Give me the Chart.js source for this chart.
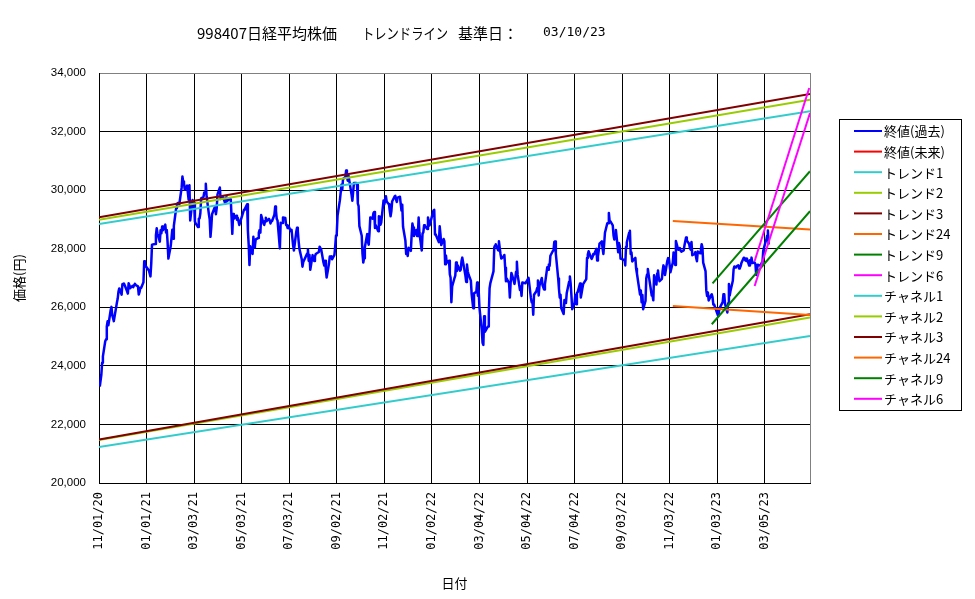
<!DOCTYPE html>
<html><head><meta charset="utf-8">
<script src="https://cdn.jsdelivr.net/npm/chart.js@4/dist/chart.umd.min.js"></script>
<style>html,body{margin:0;padding:0;background:#fff}#wrap{width:975px;height:599px;position:relative}</style>
</head><body><div id="wrap"><canvas id="c" width="975" height="599"></canvas></div>
<script>
// ---------------- data ----------------
const closeDates = [
'2020-11-02','2020-11-04','2020-11-05','2020-11-06','2020-11-09','2020-11-10','2020-11-11','2020-11-12','2020-11-13','2020-11-16','2020-11-17','2020-11-18','2020-11-19','2020-11-20','2020-11-24','2020-11-25','2020-11-26','2020-11-27','2020-11-30',
'2020-12-01','2020-12-02','2020-12-03','2020-12-04','2020-12-07','2020-12-08','2020-12-09','2020-12-10','2020-12-11','2020-12-14','2020-12-15','2020-12-16','2020-12-17','2020-12-18','2020-12-21','2020-12-22','2020-12-23','2020-12-24','2020-12-25','2020-12-28','2020-12-29','2020-12-30',
'2021-01-04','2021-01-05','2021-01-06','2021-01-07','2021-01-08','2021-01-12','2021-01-13','2021-01-14','2021-01-15','2021-01-18','2021-01-19','2021-01-20','2021-01-21','2021-01-22','2021-01-25','2021-01-26','2021-01-27','2021-01-28','2021-01-29',
'2021-02-01','2021-02-02','2021-02-03','2021-02-04','2021-02-05','2021-02-08','2021-02-09','2021-02-10','2021-02-12','2021-02-15','2021-02-16','2021-02-17','2021-02-18','2021-02-19','2021-02-22','2021-02-24','2021-02-25','2021-02-26',
'2021-03-01','2021-03-02','2021-03-03','2021-03-04','2021-03-05','2021-03-08','2021-03-09','2021-03-10','2021-03-11','2021-03-12','2021-03-15','2021-03-16','2021-03-17','2021-03-18','2021-03-19','2021-03-22','2021-03-23','2021-03-24','2021-03-25','2021-03-26','2021-03-29','2021-03-30','2021-03-31',
'2021-04-01','2021-04-02','2021-04-05','2021-04-06','2021-04-07','2021-04-08','2021-04-09','2021-04-12','2021-04-13','2021-04-14','2021-04-15','2021-04-16','2021-04-19','2021-04-20','2021-04-21','2021-04-22','2021-04-23','2021-04-26','2021-04-27','2021-04-28','2021-04-30',
'2021-05-06','2021-05-07','2021-05-10','2021-05-11','2021-05-12','2021-05-13','2021-05-14','2021-05-17','2021-05-18','2021-05-19','2021-05-20','2021-05-21','2021-05-24','2021-05-25','2021-05-26','2021-05-27','2021-05-28','2021-05-31',
'2021-06-01','2021-06-02','2021-06-03','2021-06-04','2021-06-07','2021-06-08','2021-06-09','2021-06-10','2021-06-11','2021-06-14','2021-06-15','2021-06-16','2021-06-17','2021-06-18','2021-06-21','2021-06-22','2021-06-23','2021-06-24','2021-06-25','2021-06-28','2021-06-29','2021-06-30',
'2021-07-01','2021-07-02','2021-07-05','2021-07-06','2021-07-07','2021-07-08','2021-07-09','2021-07-12','2021-07-13','2021-07-14','2021-07-15','2021-07-16','2021-07-19','2021-07-20','2021-07-21','2021-07-26','2021-07-27','2021-07-28','2021-07-29','2021-07-30',
'2021-08-02','2021-08-03','2021-08-04','2021-08-05','2021-08-06','2021-08-10','2021-08-11','2021-08-12','2021-08-13','2021-08-16','2021-08-17','2021-08-18','2021-08-19','2021-08-20','2021-08-23','2021-08-24','2021-08-25','2021-08-26','2021-08-27','2021-08-30','2021-08-31',
'2021-09-01','2021-09-02','2021-09-03','2021-09-06','2021-09-07','2021-09-08','2021-09-09','2021-09-10','2021-09-13','2021-09-14','2021-09-15','2021-09-16','2021-09-17','2021-09-21','2021-09-22','2021-09-24','2021-09-27','2021-09-28','2021-09-29','2021-09-30',
'2021-10-01','2021-10-04','2021-10-05','2021-10-06','2021-10-07','2021-10-08','2021-10-11','2021-10-12','2021-10-13','2021-10-14','2021-10-15','2021-10-18','2021-10-19','2021-10-20','2021-10-21','2021-10-22','2021-10-25','2021-10-26','2021-10-27','2021-10-28','2021-10-29',
'2021-11-01','2021-11-02','2021-11-04','2021-11-05','2021-11-08','2021-11-09','2021-11-10','2021-11-11','2021-11-12','2021-11-15','2021-11-16','2021-11-17','2021-11-18','2021-11-19','2021-11-22','2021-11-24','2021-11-25','2021-11-26','2021-11-29','2021-11-30',
'2021-12-01','2021-12-02','2021-12-03','2021-12-06','2021-12-07','2021-12-08','2021-12-09','2021-12-10','2021-12-13','2021-12-14','2021-12-15','2021-12-16','2021-12-17','2021-12-20','2021-12-21','2021-12-22','2021-12-23','2021-12-24','2021-12-27','2021-12-28','2021-12-29','2021-12-30',
'2022-01-04','2022-01-05','2022-01-06','2022-01-07','2022-01-11','2022-01-12','2022-01-13','2022-01-14','2022-01-17','2022-01-18','2022-01-19','2022-01-20','2022-01-21','2022-01-24','2022-01-25','2022-01-26','2022-01-27','2022-01-28','2022-01-31',
'2022-02-01','2022-02-02','2022-02-03','2022-02-04','2022-02-07','2022-02-08','2022-02-09','2022-02-10','2022-02-14','2022-02-15','2022-02-16','2022-02-17','2022-02-18','2022-02-21','2022-02-22','2022-02-24','2022-02-25','2022-02-28',
'2022-03-01','2022-03-02','2022-03-03','2022-03-04','2022-03-07','2022-03-08','2022-03-09','2022-03-10','2022-03-11','2022-03-14','2022-03-15','2022-03-16','2022-03-17','2022-03-18','2022-03-22','2022-03-23','2022-03-24','2022-03-25','2022-03-28','2022-03-29','2022-03-30','2022-03-31',
'2022-04-01','2022-04-04','2022-04-05','2022-04-06','2022-04-07','2022-04-08','2022-04-11','2022-04-12','2022-04-13','2022-04-14','2022-04-15','2022-04-18','2022-04-19','2022-04-20','2022-04-21','2022-04-22','2022-04-25','2022-04-26','2022-04-27','2022-04-28',
'2022-05-02','2022-05-06','2022-05-09','2022-05-10','2022-05-11','2022-05-12','2022-05-13','2022-05-16','2022-05-17','2022-05-18','2022-05-19','2022-05-20','2022-05-23','2022-05-24','2022-05-25','2022-05-26','2022-05-27','2022-05-30','2022-05-31',
'2022-06-01','2022-06-02','2022-06-03','2022-06-06','2022-06-07','2022-06-08','2022-06-09','2022-06-10','2022-06-13','2022-06-14','2022-06-15','2022-06-16','2022-06-17','2022-06-20','2022-06-21','2022-06-22','2022-06-23','2022-06-24','2022-06-27','2022-06-28','2022-06-29','2022-06-30',
'2022-07-01','2022-07-04','2022-07-05','2022-07-06','2022-07-07','2022-07-08','2022-07-11','2022-07-12','2022-07-13','2022-07-14','2022-07-15','2022-07-19','2022-07-20','2022-07-21','2022-07-22','2022-07-25','2022-07-26','2022-07-27','2022-07-28','2022-07-29',
'2022-08-01','2022-08-02','2022-08-03','2022-08-04','2022-08-05','2022-08-08','2022-08-09','2022-08-10','2022-08-12','2022-08-15','2022-08-16','2022-08-17','2022-08-18','2022-08-19','2022-08-22','2022-08-23','2022-08-24','2022-08-25','2022-08-26','2022-08-29','2022-08-30','2022-08-31',
'2022-09-01','2022-09-02','2022-09-05','2022-09-06','2022-09-07','2022-09-08','2022-09-09','2022-09-12','2022-09-13','2022-09-14','2022-09-15','2022-09-16','2022-09-20','2022-09-21','2022-09-22','2022-09-26','2022-09-27','2022-09-28','2022-09-29','2022-09-30',
'2022-10-03','2022-10-04','2022-10-05','2022-10-06','2022-10-07','2022-10-11','2022-10-12','2022-10-13','2022-10-14','2022-10-17','2022-10-18','2022-10-19','2022-10-20','2022-10-21','2022-10-24','2022-10-25','2022-10-26','2022-10-27','2022-10-28','2022-10-31',
'2022-11-01','2022-11-02','2022-11-04','2022-11-07','2022-11-08','2022-11-09','2022-11-10','2022-11-11','2022-11-14','2022-11-15','2022-11-16','2022-11-17','2022-11-18','2022-11-21','2022-11-22','2022-11-24','2022-11-25','2022-11-28','2022-11-29','2022-11-30',
'2022-12-01','2022-12-02','2022-12-05','2022-12-06','2022-12-07','2022-12-08','2022-12-09','2022-12-12','2022-12-13','2022-12-14','2022-12-15','2022-12-16','2022-12-19','2022-12-20','2022-12-21','2022-12-22','2022-12-23','2022-12-26','2022-12-27','2022-12-28','2022-12-29','2022-12-30',
'2023-01-04','2023-01-05','2023-01-06','2023-01-10','2023-01-11','2023-01-12','2023-01-13','2023-01-16','2023-01-17','2023-01-18','2023-01-19','2023-01-20','2023-01-23','2023-01-24','2023-01-25','2023-01-26','2023-01-27','2023-01-30','2023-01-31',
'2023-02-01','2023-02-02','2023-02-03','2023-02-06','2023-02-07','2023-02-08','2023-02-09','2023-02-10','2023-02-13','2023-02-14','2023-02-15','2023-02-16','2023-02-17','2023-02-20','2023-02-21','2023-02-22','2023-02-24','2023-02-27','2023-02-28',
'2023-03-01','2023-03-02','2023-03-03','2023-03-06','2023-03-07','2023-03-08','2023-03-09','2023-03-10'
];
const closeValues = [
23295,23695,24105,24325,24839,24905,25349,25520,25385,25906,26014,25728,25634,25527,26165,26296,26537,26644,26433,
26787,26800,26809,26751,26547,26467,26817,26756,26652,26732,26687,26757,26806,26763,26714,26436,26524,26668,26656,26854,27568,27444,
27258,27158,27056,27490,28139,28164,28456,28698,28519,28242,28633,28523,28756,28631,28822,28546,28635,28197,27663,
28092,28362,28646,28341,28779,29389,29505,29562,29520,30084,30467,30292,30236,30017,30156,29671,30168,28966,
29664,29408,29559,28930,28864,28743,29027,29036,29212,29717,29766,29921,29914,30216,29792,29174,28995,28405,28729,29176,29384,29432,29178,
29389,29854,30089,29696,29730,29709,29768,29538,29751,29621,29643,29683,29685,29100,28508,29188,29020,29126,28991,29053,28812,
29331,29357,29518,28608,28147,27448,28084,27824,28406,28044,28098,28317,28364,28553,28642,28549,29149,28860,
28814,28946,29058,28941,29019,28963,28860,28958,28948,29161,29441,29291,29018,28964,28010,28884,28874,28875,29066,29048,28812,28791,
28707,28783,28598,28643,28366,28118,27940,28569,28718,28608,28279,28003,27652,27388,27548,27833,27970,27581,27782,27283,
27781,27641,27584,27728,27820,27888,28070,28015,27977,27523,27424,27585,27281,27013,27494,27732,27724,27742,27641,27789,28089,
28451,28543,29128,29659,29916,30181,30008,30381,30447,30670,30511,30323,30500,29839,29639,30248,30240,30183,29544,29452,
28771,28444,27822,27528,27678,28048,28498,28230,28140,28550,29068,29025,29215,29255,28708,28804,28600,29106,29098,28820,28892,
29647,29520,29794,29611,29507,29285,29106,29278,29610,29777,29808,29688,29598,29745,29774,29302,29499,28751,28283,27821,
27935,27753,28029,27927,28455,28860,28725,28437,28640,28432,28459,29066,28545,27937,28517,28562,28798,28782,28676,29069,28906,28791,
29301,29332,28487,28478,28222,28765,28489,28124,28333,28257,27467,27772,27522,27588,27131,27011,26170,26717,27001,
27078,27533,27241,27440,27249,27284,27579,27696,27080,26865,27460,27232,27122,26911,26449,25970,26476,26526,
26844,26393,26577,25985,25221,24790,24717,25690,25163,25307,25346,25762,26652,26827,27224,28040,28110,28149,27943,28252,28027,27821,
27666,27736,27787,27350,26889,26985,26821,26334,26843,27172,27093,26799,26985,27217,27553,27105,26590,26700,26386,26847,
26818,27003,26319,26167,26213,25748,26428,26547,26659,26911,26402,26739,27001,26748,26677,26604,26781,27369,27279,
27457,27413,27761,27915,27943,28234,28246,27824,26987,26629,26326,26431,25963,25771,26246,26149,26171,26491,26871,27049,26804,26393,
25935,26153,26423,26107,26490,26517,26812,26336,26478,26643,26788,26961,27680,27803,27914,27699,27655,27715,27815,27801,
27993,27594,27741,27932,28176,28249,27999,27819,28546,28871,28868,29222,28942,28930,28794,28452,28313,28479,28641,27878,28195,28091,
27661,27650,27619,27626,27430,28065,28214,28542,28614,27818,27876,27567,27688,27313,27153,26431,26571,26173,26422,25937,
26215,26992,27120,27311,27116,26401,26397,26237,27090,26775,27156,27257,27006,26891,26974,27250,27431,27345,27105,27587,
27678,27663,27199,27527,27872,27716,27446,28263,27963,27990,28028,27930,27899,27944,28115,28383,28283,28162,28027,27968,
28226,27777,27820,27885,27686,27574,27901,27842,27954,28156,28051,27527,27237,26568,26387,26507,26235,26405,26447,26340,26093,26094,
25716,25820,25973,26175,26446,26449,26119,25822,26138,26791,26405,26553,26906,27299,27395,27362,27382,27433,27327,
27346,27402,27509,27693,27685,27606,27584,27670,27427,27602,27501,27696,27513,27531,27473,27104,27453,27423,27445,
27516,27498,27927,28237,28309,28444,28623,28143
];
// future closes (none shown)
const futureDates = [];
const futureValues = [];

// trend / channel lines: start and end points
const lineLabels      = ['トレンド1','トレンド2','トレンド3','トレンド24','トレンド9','トレンド6','チャネル1','チャネル2','チャネル3','チャネル24','チャネル9','チャネル6'];
const lineStartDates  = ['2020-11-01','2020-11-01','2020-11-01','2022-11-07','2022-12-28','2023-02-20','2020-11-01','2020-11-01','2020-11-01','2022-11-07','2022-12-27','2023-02-20'];
const lineStartValues = [28840, 28985, 29075, 28943, 26818, 27580, 21233, 21470, 21482, 26045, 25420, 26727];
const lineEndDates    = ['2023-05-02','2023-05-02','2023-05-02','2023-05-02','2023-05-02','2023-05-01','2023-05-02','2023-05-02','2023-05-02','2023-05-02','2023-05-02','2023-05-02'];
const lineEndValues   = [32693, 33090, 33284, 28659, 30648, 33489, 25023, 25648, 25761, 25739, 29284, 32636];

const xTickLabels = ['11/01/20','01/01/21','03/03/21','05/03/21','07/03/21','09/02/21','11/02/21','01/02/22','03/04/22','05/04/22','07/04/22','09/03/22','11/03/22','01/03/23','03/05/23'];
const xAxisStart = '2020-11-01';
const xAxisEnd = '2023-05-02';
const yMin = 20000, yMax = 34000, yStep = 2000;

// ---------------- helpers ----------------
const base = Date.UTC(2020, 10, 1);
function dayOf(s) { const [y, m, d] = s.split('-').map(Number); return (Date.UTC(y, m - 1, d) - base) / 86400000; }
function dayOfLabel(l) { const [m, d, y] = l.split('/').map(Number); return dayOf((2000 + y) + '-' + m + '-' + d); }

const lineColors = ['#33CCCC','#99CC00','#800000','#FF6600','#008000','#FF00FF','#33CCCC','#99CC00','#800000','#FF6600','#008000','#FF00FF'];

const datasets = [
  { label: '終値(過去)', data: closeDates.map((d, i) => ({ x: dayOf(d), y: closeValues[i] })), borderColor: '#0000FF', borderWidth: 2.5, borderJoinStyle: 'round' },
  { label: '終値(未来)', data: futureDates.map((d, i) => ({ x: dayOf(d), y: futureValues[i] })), borderColor: '#FF0000', borderWidth: 2.5 }
];
lineLabels.forEach((lab, i) => {
  datasets.push({ label: lab, data: [ { x: dayOf(lineStartDates[i]), y: lineStartValues[i] }, { x: dayOf(lineEndDates[i]), y: lineEndValues[i] } ], borderColor: lineColors[i], borderWidth: 2 });
});
datasets.forEach((ds, i) => { ds.pointRadius = 0; ds.fill = false; ds.tension = 0; ds.order = -i; ds.backgroundColor = ds.borderColor; });

// ---------------- plugins ----------------
const titlePlugin = {
  id: 'excelTitle',
  afterDraw(chart) {
    const ctx = chart.ctx;
    ctx.save();
    ctx.fillStyle = '#000';
    ctx.textBaseline = 'middle';
    ctx.textAlign = 'left';
    const parts = [
      ['998407日経平均株価', 197, 140, '15px "Noto Sans CJK JP"'],
      ['トレンドライン', 362, 86, '15px "Noto Sans CJK JP"'],
      ['基準日：', 458, 78, '15px "Noto Sans CJK JP"'],
      ['03/10/23', 543, 64, '13px "DejaVu Sans Mono"']
    ];
    parts.forEach(p => { ctx.font = p[3]; ctx.fillText(p[0], p[1], 33, p[2]); });
    ctx.restore();
  }
};
const framePlugin = {
  id: 'excelFrame',
  beforeDatasetsDraw(chart) {
    const a = chart.chartArea, ctx = chart.ctx;
    ctx.save();
    ctx.strokeStyle = '#808080';
    ctx.lineWidth = 1;
    ctx.beginPath();
    ctx.moveTo(Math.round(a.right) + 0.5, a.top);
    ctx.lineTo(Math.round(a.right) + 0.5, a.bottom);
    ctx.stroke();
    ctx.restore();
  }
};
const legendPlugin = {
  id: 'excelLegend',
  afterDraw(chart) {
    const ctx = chart.ctx;
    ctx.save();
    ctx.strokeStyle = '#000';
    ctx.lineWidth = 1;
    ctx.strokeRect(839.5, 119.5, 122, 291);
    ctx.font = '13px "Noto Sans CJK JP"';
    ctx.textBaseline = 'middle';
    ctx.textAlign = 'left';
    chart.data.datasets.forEach((ds, i) => {
      const y = 131 + i * 20.6;
      ctx.strokeStyle = ds.borderColor;
      ctx.lineWidth = 2;
      ctx.beginPath();
      ctx.moveTo(854, y); ctx.lineTo(882, y);
      ctx.stroke();
      ctx.fillStyle = '#000';
      ctx.fillText(ds.label, 884, y + 0.5, 70);
    });
    ctx.restore();
  }
};

// ---------------- chart ----------------
Chart.defaults.font.family = '"Noto Sans CJK JP", "Liberation Sans", sans-serif';
Chart.defaults.color = '#000';

new Chart(document.getElementById('c'), {
  type: 'line',
  data: { datasets },
  options: {
    responsive: false,
    animation: false,
    devicePixelRatio: 1,
    events: [],
    layout: { padding: { top: 73, right: 165, bottom: 0, left: 0 } },
    plugins: { legend: { display: false }, title: { display: false }, tooltip: { enabled: false } },
    scales: {
      x: {
        type: 'linear',
        min: dayOf(xAxisStart),
        max: dayOf(xAxisEnd),
        afterBuildTicks: s => { s.ticks = xTickLabels.map(l => ({ value: dayOfLabel(l) })); },
        afterFit: s => { s.height = 116; },
        ticks: {
          autoSkip: false, maxRotation: 90, minRotation: 90, padding: 9, color: '#000',
          font: { family: '"DejaVu Sans Mono"', size: 12 },
          callback: (v, i) => xTickLabels[i]
        },
        grid: { color: '#000', lineWidth: 1, drawTicks: false },
        border: { color: '#000', width: 1 },
        title: { display: true, text: '日付', color: '#000', font: { family: '"Noto Sans CJK JP"', size: 13 }, padding: { top: 0, bottom: 8 } }
      },
      y: {
        min: yMin, max: yMax,
        afterFit: s => { s.width = 99; },
        ticks: {
          stepSize: yStep, padding: 13, color: '#000',
          font: { family: '"Liberation Sans"', size: 11.5 },
          callback: v => Number(v).toLocaleString('en-US')
        },
        grid: { color: c => (c.tick && c.tick.value === yMax) ? '#808080' : '#000', lineWidth: 1, drawTicks: false },
        border: { color: '#000', width: 1 },
        title: { display: true, text: '価格(円)', color: '#000', font: { family: '"Noto Sans CJK JP"', size: 13 }, padding: { top: 11, bottom: 0 } }
      }
    }
  },
  plugins: [framePlugin, titlePlugin, legendPlugin]
});
</script>
</body></html>
